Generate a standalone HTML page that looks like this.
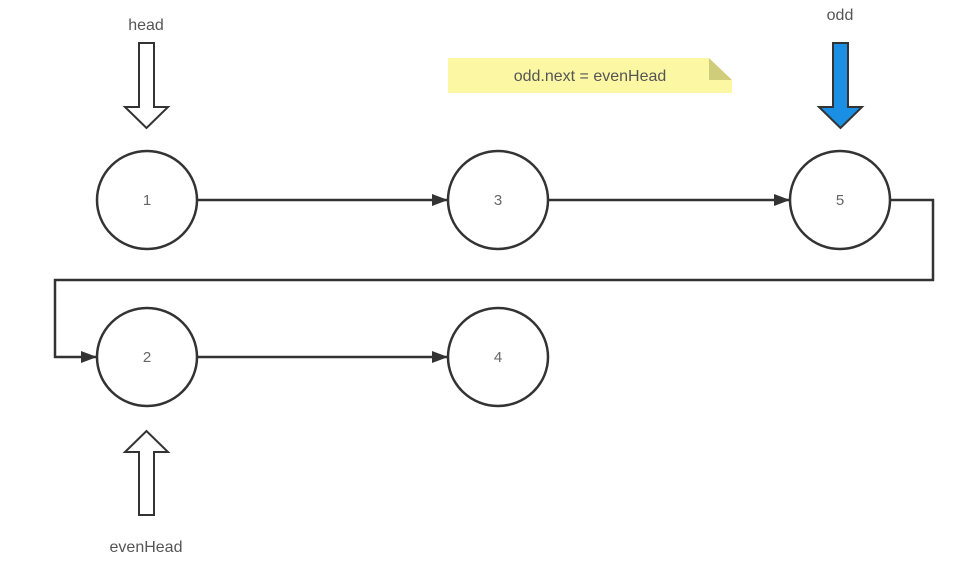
<!DOCTYPE html>
<html><head><meta charset="utf-8"><style>
body{margin:0;background:#fff;}
svg{display:block;font-family:"Liberation Sans",sans-serif;}
</style></head><body>
<svg width="976" height="574" viewBox="0 0 976 574">
<defs><marker id="ah" markerWidth="16" markerHeight="12" refX="15" refY="6" orient="auto" markerUnits="userSpaceOnUse"><path d="M0,0 L16,6 L0,12 Z" fill="#333"/></marker></defs>
<g stroke="#333" stroke-width="2.5" fill="none">
<line x1="197" y1="200" x2="447" y2="200" marker-end="url(#ah)"/>
<line x1="548" y1="200" x2="789" y2="200" marker-end="url(#ah)"/>
<polyline points="890,200 933,200 933,280 55,280 55,357 96,357" marker-end="url(#ah)"/>
<line x1="197" y1="357" x2="447" y2="357" marker-end="url(#ah)"/>
</g>
<g stroke="#333" stroke-width="2.5" fill="#fff" font-size="15" text-anchor="middle">
<g><ellipse cx="147" cy="200" rx="50" ry="49"/><text x="147" y="205" fill="#666" stroke="none">1</text></g>
<g><ellipse cx="498" cy="200" rx="50" ry="49"/><text x="498" y="205" fill="#666" stroke="none">3</text></g>
<g><ellipse cx="840" cy="200" rx="50" ry="49"/><text x="840" y="205" fill="#666" stroke="none">5</text></g>
<g><ellipse cx="147" cy="357" rx="50" ry="49"/><text x="147" y="362" fill="#666" stroke="none">2</text></g>
<g><ellipse cx="498" cy="357" rx="50" ry="49"/><text x="498" y="362" fill="#666" stroke="none">4</text></g>
</g>
<path d="M139,43 H154 V107 H168 L146.5,128 L125,107 H139 Z" fill="#fff" stroke="#333" stroke-width="2"/>
<text x="146" y="30" font-size="16" fill="#555" text-anchor="middle">head</text>
<path d="M833,43 H848 V107 H862 L840.5,128 L819,107 H833 Z" fill="#1a8fe3" stroke="#333" stroke-width="2"/>
<text x="840" y="20" font-size="16" fill="#555" text-anchor="middle">odd</text>
<path d="M139,515 H154 V452 H168 L146.5,431 L125,452 H139 Z" fill="#fff" stroke="#333" stroke-width="2"/>
<text x="146" y="552" font-size="16" fill="#555" text-anchor="middle">evenHead</text>
<g>
<rect x="448" y="58" width="284" height="35" fill="#fbf7a3"/>
<path d="M709,58 L709,80 L732,80 Z" fill="#cfcd7a"/>
<path d="M709,58 L732,80 L732,58 Z" fill="#fff"/>
<text x="590" y="81" font-size="16" fill="#555" text-anchor="middle">odd.next = evenHead</text>
</g>
</svg>
</body></html>
